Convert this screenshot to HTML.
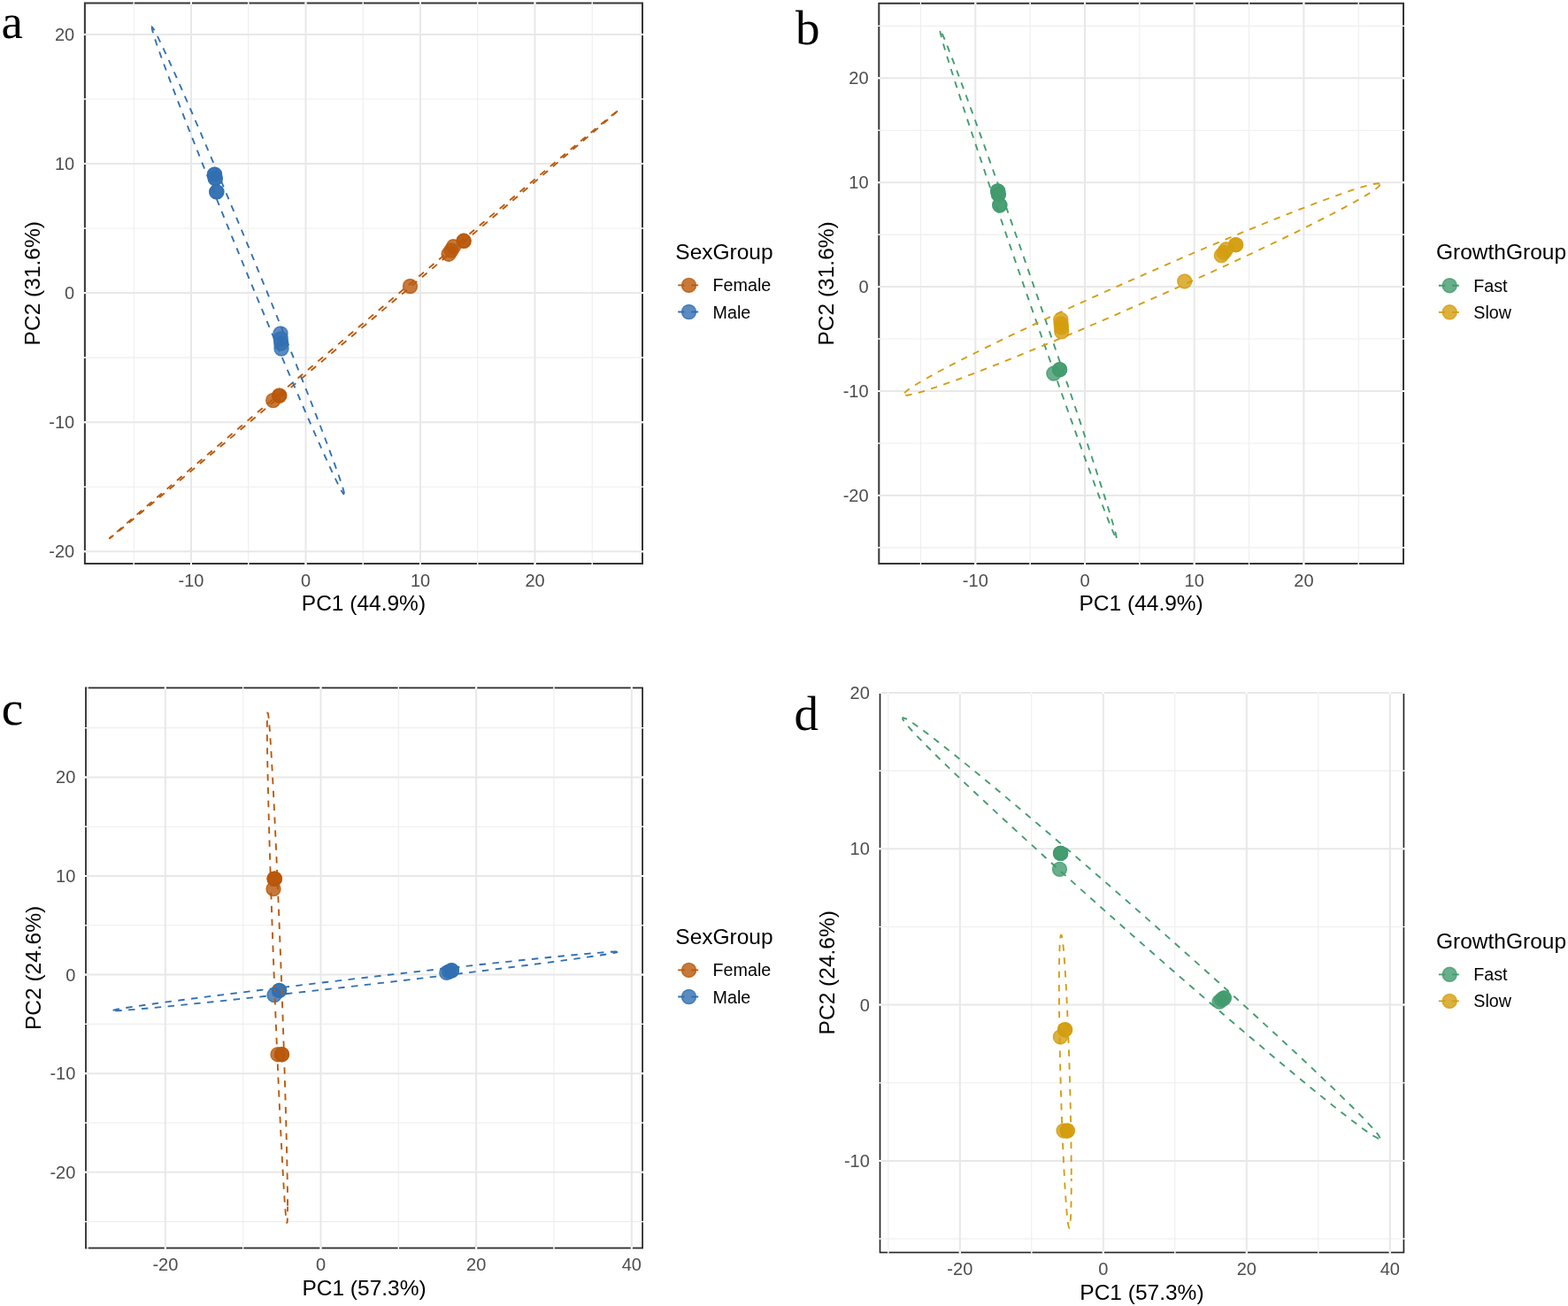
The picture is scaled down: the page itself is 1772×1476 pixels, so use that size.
<!DOCTYPE html>
<html><head><meta charset="utf-8"><title>PCA plots</title>
<style>html,body{margin:0;padding:0;background:#fff;}svg{display:block;}</style>
</head><body>
<svg width="1772" height="1476" viewBox="0 0 1772 1476">
<rect width="1772" height="1476" fill="#fff"/>
<rect x="95.9" y="3.5" width="630.1" height="633.5" fill="none" stroke="#363636" stroke-width="2.0"/>
<line x1="151.25" y1="2.5" x2="151.25" y2="638" stroke="#EEEEEE" stroke-width="1.1"/>
<line x1="280.75" y1="2.5" x2="280.75" y2="638" stroke="#EEEEEE" stroke-width="1.1"/>
<line x1="410.25" y1="2.5" x2="410.25" y2="638" stroke="#EEEEEE" stroke-width="1.1"/>
<line x1="539.75" y1="2.5" x2="539.75" y2="638" stroke="#EEEEEE" stroke-width="1.1"/>
<line x1="669.25" y1="2.5" x2="669.25" y2="638" stroke="#EEEEEE" stroke-width="1.1"/>
<line x1="94.9" y1="550.25" x2="727" y2="550.25" stroke="#EEEEEE" stroke-width="1.1"/>
<line x1="94.9" y1="404.15" x2="727" y2="404.15" stroke="#EEEEEE" stroke-width="1.1"/>
<line x1="94.9" y1="258.05" x2="727" y2="258.05" stroke="#EEEEEE" stroke-width="1.1"/>
<line x1="94.9" y1="111.95" x2="727" y2="111.95" stroke="#EEEEEE" stroke-width="1.1"/>
<line x1="216" y1="2.5" x2="216" y2="638" stroke="#E8E8E8" stroke-width="2.0"/>
<line x1="345.5" y1="2.5" x2="345.5" y2="638" stroke="#E8E8E8" stroke-width="2.0"/>
<line x1="475" y1="2.5" x2="475" y2="638" stroke="#E8E8E8" stroke-width="2.0"/>
<line x1="604.5" y1="2.5" x2="604.5" y2="638" stroke="#E8E8E8" stroke-width="2.0"/>
<line x1="94.9" y1="623.3" x2="727" y2="623.3" stroke="#E8E8E8" stroke-width="2.0"/>
<line x1="94.9" y1="477.2" x2="727" y2="477.2" stroke="#E8E8E8" stroke-width="2.0"/>
<line x1="94.9" y1="331.1" x2="727" y2="331.1" stroke="#E8E8E8" stroke-width="2.0"/>
<line x1="94.9" y1="185" x2="727" y2="185" stroke="#E8E8E8" stroke-width="2.0"/>
<line x1="94.9" y1="38.9" x2="727" y2="38.9" stroke="#E8E8E8" stroke-width="2.0"/>
<line x1="151.25" y1="2.3" x2="151.25" y2="4.7" stroke="#fff" stroke-width="1.1"/>
<line x1="151.25" y1="635.8" x2="151.25" y2="638.2" stroke="#fff" stroke-width="1.1"/>
<line x1="216" y1="2.3" x2="216" y2="4.7" stroke="#fff" stroke-width="2"/>
<line x1="216" y1="635.8" x2="216" y2="638.2" stroke="#fff" stroke-width="2"/>
<line x1="280.75" y1="2.3" x2="280.75" y2="4.7" stroke="#fff" stroke-width="1.1"/>
<line x1="280.75" y1="635.8" x2="280.75" y2="638.2" stroke="#fff" stroke-width="1.1"/>
<line x1="345.5" y1="2.3" x2="345.5" y2="4.7" stroke="#fff" stroke-width="2"/>
<line x1="345.5" y1="635.8" x2="345.5" y2="638.2" stroke="#fff" stroke-width="2"/>
<line x1="410.25" y1="2.3" x2="410.25" y2="4.7" stroke="#fff" stroke-width="1.1"/>
<line x1="410.25" y1="635.8" x2="410.25" y2="638.2" stroke="#fff" stroke-width="1.1"/>
<line x1="475" y1="2.3" x2="475" y2="4.7" stroke="#fff" stroke-width="2"/>
<line x1="475" y1="635.8" x2="475" y2="638.2" stroke="#fff" stroke-width="2"/>
<line x1="539.75" y1="2.3" x2="539.75" y2="4.7" stroke="#fff" stroke-width="1.1"/>
<line x1="539.75" y1="635.8" x2="539.75" y2="638.2" stroke="#fff" stroke-width="1.1"/>
<line x1="604.5" y1="2.3" x2="604.5" y2="4.7" stroke="#fff" stroke-width="2"/>
<line x1="604.5" y1="635.8" x2="604.5" y2="638.2" stroke="#fff" stroke-width="2"/>
<line x1="669.25" y1="2.3" x2="669.25" y2="4.7" stroke="#fff" stroke-width="1.1"/>
<line x1="669.25" y1="635.8" x2="669.25" y2="638.2" stroke="#fff" stroke-width="1.1"/>
<line x1="94.7" y1="623.3" x2="97.1" y2="623.3" stroke="#fff" stroke-width="2"/>
<line x1="724.8" y1="623.3" x2="727.2" y2="623.3" stroke="#fff" stroke-width="2"/>
<line x1="94.7" y1="550.25" x2="97.1" y2="550.25" stroke="#fff" stroke-width="1.1"/>
<line x1="724.8" y1="550.25" x2="727.2" y2="550.25" stroke="#fff" stroke-width="1.1"/>
<line x1="94.7" y1="477.2" x2="97.1" y2="477.2" stroke="#fff" stroke-width="2"/>
<line x1="724.8" y1="477.2" x2="727.2" y2="477.2" stroke="#fff" stroke-width="2"/>
<line x1="94.7" y1="404.15" x2="97.1" y2="404.15" stroke="#fff" stroke-width="1.1"/>
<line x1="724.8" y1="404.15" x2="727.2" y2="404.15" stroke="#fff" stroke-width="1.1"/>
<line x1="94.7" y1="331.1" x2="97.1" y2="331.1" stroke="#fff" stroke-width="2"/>
<line x1="724.8" y1="331.1" x2="727.2" y2="331.1" stroke="#fff" stroke-width="2"/>
<line x1="94.7" y1="258.05" x2="97.1" y2="258.05" stroke="#fff" stroke-width="1.1"/>
<line x1="724.8" y1="258.05" x2="727.2" y2="258.05" stroke="#fff" stroke-width="1.1"/>
<line x1="94.7" y1="185" x2="97.1" y2="185" stroke="#fff" stroke-width="2"/>
<line x1="724.8" y1="185" x2="727.2" y2="185" stroke="#fff" stroke-width="2"/>
<line x1="94.7" y1="111.95" x2="97.1" y2="111.95" stroke="#fff" stroke-width="1.1"/>
<line x1="724.8" y1="111.95" x2="727.2" y2="111.95" stroke="#fff" stroke-width="1.1"/>
<line x1="94.7" y1="38.9" x2="97.1" y2="38.9" stroke="#fff" stroke-width="2"/>
<line x1="724.8" y1="38.9" x2="727.2" y2="38.9" stroke="#fff" stroke-width="2"/>
<circle cx="463.5" cy="323.5" r="8" fill="#B9580A" fill-opacity="0.8" stroke="#B9580A" stroke-opacity="0.8" stroke-width="1.4"/>
<circle cx="524.09" cy="272.29" r="8" fill="#B9580A" fill-opacity="0.8" stroke="#B9580A" stroke-opacity="0.8" stroke-width="1.4"/>
<circle cx="524.09" cy="272.29" r="8" fill="#B9580A" fill-opacity="0.8" stroke="#B9580A" stroke-opacity="0.8" stroke-width="1.4"/>
<circle cx="512.59" cy="278.69" r="8" fill="#B9580A" fill-opacity="0.8" stroke="#B9580A" stroke-opacity="0.8" stroke-width="1.4"/>
<circle cx="510" cy="283" r="8" fill="#B9580A" fill-opacity="0.8" stroke="#B9580A" stroke-opacity="0.8" stroke-width="1.4"/>
<circle cx="507.1" cy="287.2" r="8" fill="#B9580A" fill-opacity="0.8" stroke="#B9580A" stroke-opacity="0.8" stroke-width="1.4"/>
<circle cx="308.7" cy="452.49" r="8" fill="#B9580A" fill-opacity="0.8" stroke="#B9580A" stroke-opacity="0.8" stroke-width="1.4"/>
<circle cx="315.7" cy="447.1" r="8" fill="#B9580A" fill-opacity="0.8" stroke="#B9580A" stroke-opacity="0.8" stroke-width="1.4"/>
<circle cx="315.7" cy="447.1" r="8" fill="#B9580A" fill-opacity="0.8" stroke="#B9580A" stroke-opacity="0.8" stroke-width="1.4"/>
<circle cx="242.5" cy="197.1" r="8" fill="#316FB2" fill-opacity="0.8" stroke="#316FB2" stroke-opacity="0.8" stroke-width="1.4"/>
<circle cx="242.5" cy="197.1" r="8" fill="#316FB2" fill-opacity="0.8" stroke="#316FB2" stroke-opacity="0.8" stroke-width="1.4"/>
<circle cx="243.3" cy="201.7" r="8" fill="#316FB2" fill-opacity="0.8" stroke="#316FB2" stroke-opacity="0.8" stroke-width="1.4"/>
<circle cx="243.3" cy="201.7" r="8" fill="#316FB2" fill-opacity="0.8" stroke="#316FB2" stroke-opacity="0.8" stroke-width="1.4"/>
<circle cx="244.8" cy="216.91" r="8" fill="#316FB2" fill-opacity="0.8" stroke="#316FB2" stroke-opacity="0.8" stroke-width="1.4"/>
<circle cx="244.8" cy="216.91" r="8" fill="#316FB2" fill-opacity="0.8" stroke="#316FB2" stroke-opacity="0.8" stroke-width="1.4"/>
<circle cx="317" cy="377" r="8" fill="#316FB2" fill-opacity="0.8" stroke="#316FB2" stroke-opacity="0.8" stroke-width="1.4"/>
<circle cx="317.29" cy="382.99" r="8" fill="#316FB2" fill-opacity="0.8" stroke="#316FB2" stroke-opacity="0.8" stroke-width="1.4"/>
<circle cx="317.7" cy="388.01" r="8" fill="#316FB2" fill-opacity="0.8" stroke="#316FB2" stroke-opacity="0.8" stroke-width="1.4"/>
<circle cx="317.99" cy="394" r="8" fill="#316FB2" fill-opacity="0.8" stroke="#316FB2" stroke-opacity="0.8" stroke-width="1.4"/>
<path d="M697.9 125.41 L695.72 127 L689.23 132.23 L678.5 141.02 L663.72 153.24 L645.1 168.7 L622.93 187.16 L597.54 208.36 L569.32 231.96 L538.69 257.61 L506.12 284.92 L472.1 313.48 L437.15 342.85 L401.8 372.58 L366.59 402.24 L332.04 431.36 L298.68 459.5 L267.02 486.25 L237.54 511.19 L210.68 533.94 L186.86 554.17 L166.42 571.56 L149.69 585.85 L136.92 596.83 L128.29 604.32 L123.94 608.22 L123.4 608.79" fill="none" stroke="#B9580A" stroke-width="1.85" stroke-dasharray="7.45 7.45" stroke-dashoffset="13.2"/>
<path d="M123.4 608.79 L123.94 608.46 L128.29 605.04 L136.92 598.02 L149.69 587.49 L166.42 573.63 L186.86 556.63 L210.68 536.76 L237.54 514.32 L267.02 489.65 L298.68 463.11 L332.04 435.13 L366.59 406.11 L401.8 376.5 L437.15 346.75 L472.1 317.31 L506.12 288.62 L538.69 261.12 L569.32 235.23 L597.54 211.34 L622.93 189.81 L645.1 170.96 L663.72 155.09 L678.5 142.43 L689.23 133.18 L695.72 127.48 L697.9 125.41" fill="none" stroke="#B9580A" stroke-width="1.85" stroke-dasharray="7.45 7.45" stroke-dashoffset="1.14"/>
<path d="M389.07 558.26 L388.24 554.16 L385.78 546.14 L381.72 534.3 L376.12 518.83 L369.07 499.96 L360.68 477.98 L351.07 453.22 L340.38 426.06 L328.78 396.9 L316.45 366.2 L303.57 334.41 L290.34 302.03 L276.95 269.53 L263.62 237.41 L250.53 206.16 L237.9 176.25 L225.92 148.14 L214.75 122.25 L204.58 98.98 L195.56 78.67 L187.83 61.63 L181.49 48.13 L176.65 38.37 L173.39 32.49 L171.74 30.59 L171.53 31.14" fill="none" stroke="#316FB2" stroke-width="1.85" stroke-dasharray="7.45 7.45" stroke-dashoffset="14.6"/>
<path d="M171.53 31.14 L171.74 32.69 L173.39 38.76 L176.65 48.72 L181.49 62.4 L187.83 79.6 L195.56 100.06 L204.58 123.48 L214.75 149.49 L225.92 177.7 L237.9 207.68 L250.53 238.99 L263.62 271.14 L276.95 303.64 L290.34 336.01 L303.57 367.75 L316.45 398.39 L328.78 427.45 L340.38 454.51 L351.07 479.14 L360.68 500.97 L369.07 519.68 L376.12 534.97 L381.72 546.63 L385.78 554.46 L388.24 558.36 L389.07 558.26" fill="none" stroke="#316FB2" stroke-width="1.85" stroke-dasharray="7.45 7.45" stroke-dashoffset="1.1"/>
<g font-family="'Liberation Sans', Arial, Helvetica, sans-serif" font-size="20.0" fill="#4D4D4D"><text x="216" y="662.7" text-anchor="middle">-10</text><text x="345.5" y="662.7" text-anchor="middle">0</text><text x="475" y="662.7" text-anchor="middle">10</text><text x="604.5" y="662.7" text-anchor="middle">20</text><text x="84.2" y="630.2" text-anchor="end">-20</text><text x="84.2" y="484.1" text-anchor="end">-10</text><text x="84.2" y="338" text-anchor="end">0</text><text x="84.2" y="191.9" text-anchor="end">10</text><text x="84.2" y="45.8" text-anchor="end">20</text></g>
<text x="410.95" y="690.3" text-anchor="middle" font-family="'Liberation Sans', Arial, Helvetica, sans-serif" font-size="24.5" fill="#000">PC1 (44.9%)</text>
<text transform="translate(44.8 320.25) rotate(-90)" text-anchor="middle" font-family="'Liberation Sans', Arial, Helvetica, sans-serif" font-size="24.5" fill="#000">PC2 (31.6%)</text>
<text x="763.3" y="292.6" font-family="'Liberation Sans', Arial, Helvetica, sans-serif" font-size="24.5" fill="#000">SexGroup</text>
<circle cx="778.5" cy="322.4" r="8" fill="#B9580A" fill-opacity="0.8" stroke="#B9580A" stroke-opacity="0.8" stroke-width="1.4"/>
<path d="M766.2 322.4H773.5M781.3 322.4H789.1" stroke="#B9580A" stroke-width="1.85" fill="none"/>
<text x="805.6" y="329.4" font-family="'Liberation Sans', Arial, Helvetica, sans-serif" font-size="19.7" fill="#000">Female</text>
<circle cx="778.5" cy="352.5" r="8" fill="#316FB2" fill-opacity="0.8" stroke="#316FB2" stroke-opacity="0.8" stroke-width="1.4"/>
<path d="M766.2 352.5H773.5M781.3 352.5H789.1" stroke="#316FB2" stroke-width="1.85" fill="none"/>
<text x="805.6" y="359.5" font-family="'Liberation Sans', Arial, Helvetica, sans-serif" font-size="19.7" fill="#000">Male</text>
<text x="1.4" y="43.4" font-family="'Liberation Serif', 'Times New Roman', serif" font-size="55" fill="#000">a</text>
<rect x="993.3" y="3.8" width="592.7" height="633.2" fill="none" stroke="#363636" stroke-width="2.0"/>
<line x1="1040.45" y1="2.8" x2="1040.45" y2="638" stroke="#EEEEEE" stroke-width="1.1"/>
<line x1="1164.15" y1="2.8" x2="1164.15" y2="638" stroke="#EEEEEE" stroke-width="1.1"/>
<line x1="1287.85" y1="2.8" x2="1287.85" y2="638" stroke="#EEEEEE" stroke-width="1.1"/>
<line x1="1411.55" y1="2.8" x2="1411.55" y2="638" stroke="#EEEEEE" stroke-width="1.1"/>
<line x1="1535.25" y1="2.8" x2="1535.25" y2="638" stroke="#EEEEEE" stroke-width="1.1"/>
<line x1="992.3" y1="618.85" x2="1587" y2="618.85" stroke="#EEEEEE" stroke-width="1.1"/>
<line x1="992.3" y1="500.95" x2="1587" y2="500.95" stroke="#EEEEEE" stroke-width="1.1"/>
<line x1="992.3" y1="383.05" x2="1587" y2="383.05" stroke="#EEEEEE" stroke-width="1.1"/>
<line x1="992.3" y1="265.15" x2="1587" y2="265.15" stroke="#EEEEEE" stroke-width="1.1"/>
<line x1="992.3" y1="147.25" x2="1587" y2="147.25" stroke="#EEEEEE" stroke-width="1.1"/>
<line x1="992.3" y1="29.35" x2="1587" y2="29.35" stroke="#EEEEEE" stroke-width="1.1"/>
<line x1="1102.3" y1="2.8" x2="1102.3" y2="638" stroke="#E8E8E8" stroke-width="2.0"/>
<line x1="1226" y1="2.8" x2="1226" y2="638" stroke="#E8E8E8" stroke-width="2.0"/>
<line x1="1349.7" y1="2.8" x2="1349.7" y2="638" stroke="#E8E8E8" stroke-width="2.0"/>
<line x1="1473.4" y1="2.8" x2="1473.4" y2="638" stroke="#E8E8E8" stroke-width="2.0"/>
<line x1="992.3" y1="559.9" x2="1587" y2="559.9" stroke="#E8E8E8" stroke-width="2.0"/>
<line x1="992.3" y1="442" x2="1587" y2="442" stroke="#E8E8E8" stroke-width="2.0"/>
<line x1="992.3" y1="324.1" x2="1587" y2="324.1" stroke="#E8E8E8" stroke-width="2.0"/>
<line x1="992.3" y1="206.2" x2="1587" y2="206.2" stroke="#E8E8E8" stroke-width="2.0"/>
<line x1="992.3" y1="88.3" x2="1587" y2="88.3" stroke="#E8E8E8" stroke-width="2.0"/>
<line x1="1040.45" y1="2.6" x2="1040.45" y2="5" stroke="#fff" stroke-width="1.1"/>
<line x1="1040.45" y1="635.8" x2="1040.45" y2="638.2" stroke="#fff" stroke-width="1.1"/>
<line x1="1102.3" y1="2.6" x2="1102.3" y2="5" stroke="#fff" stroke-width="2"/>
<line x1="1102.3" y1="635.8" x2="1102.3" y2="638.2" stroke="#fff" stroke-width="2"/>
<line x1="1164.15" y1="2.6" x2="1164.15" y2="5" stroke="#fff" stroke-width="1.1"/>
<line x1="1164.15" y1="635.8" x2="1164.15" y2="638.2" stroke="#fff" stroke-width="1.1"/>
<line x1="1226" y1="2.6" x2="1226" y2="5" stroke="#fff" stroke-width="2"/>
<line x1="1226" y1="635.8" x2="1226" y2="638.2" stroke="#fff" stroke-width="2"/>
<line x1="1287.85" y1="2.6" x2="1287.85" y2="5" stroke="#fff" stroke-width="1.1"/>
<line x1="1287.85" y1="635.8" x2="1287.85" y2="638.2" stroke="#fff" stroke-width="1.1"/>
<line x1="1349.7" y1="2.6" x2="1349.7" y2="5" stroke="#fff" stroke-width="2"/>
<line x1="1349.7" y1="635.8" x2="1349.7" y2="638.2" stroke="#fff" stroke-width="2"/>
<line x1="1411.55" y1="2.6" x2="1411.55" y2="5" stroke="#fff" stroke-width="1.1"/>
<line x1="1411.55" y1="635.8" x2="1411.55" y2="638.2" stroke="#fff" stroke-width="1.1"/>
<line x1="1473.4" y1="2.6" x2="1473.4" y2="5" stroke="#fff" stroke-width="2"/>
<line x1="1473.4" y1="635.8" x2="1473.4" y2="638.2" stroke="#fff" stroke-width="2"/>
<line x1="1535.25" y1="2.6" x2="1535.25" y2="5" stroke="#fff" stroke-width="1.1"/>
<line x1="1535.25" y1="635.8" x2="1535.25" y2="638.2" stroke="#fff" stroke-width="1.1"/>
<line x1="992.1" y1="618.85" x2="994.5" y2="618.85" stroke="#fff" stroke-width="1.1"/>
<line x1="1584.8" y1="618.85" x2="1587.2" y2="618.85" stroke="#fff" stroke-width="1.1"/>
<line x1="992.1" y1="559.9" x2="994.5" y2="559.9" stroke="#fff" stroke-width="2"/>
<line x1="1584.8" y1="559.9" x2="1587.2" y2="559.9" stroke="#fff" stroke-width="2"/>
<line x1="992.1" y1="500.95" x2="994.5" y2="500.95" stroke="#fff" stroke-width="1.1"/>
<line x1="1584.8" y1="500.95" x2="1587.2" y2="500.95" stroke="#fff" stroke-width="1.1"/>
<line x1="992.1" y1="442" x2="994.5" y2="442" stroke="#fff" stroke-width="2"/>
<line x1="1584.8" y1="442" x2="1587.2" y2="442" stroke="#fff" stroke-width="2"/>
<line x1="992.1" y1="383.05" x2="994.5" y2="383.05" stroke="#fff" stroke-width="1.1"/>
<line x1="1584.8" y1="383.05" x2="1587.2" y2="383.05" stroke="#fff" stroke-width="1.1"/>
<line x1="992.1" y1="324.1" x2="994.5" y2="324.1" stroke="#fff" stroke-width="2"/>
<line x1="1584.8" y1="324.1" x2="1587.2" y2="324.1" stroke="#fff" stroke-width="2"/>
<line x1="992.1" y1="265.15" x2="994.5" y2="265.15" stroke="#fff" stroke-width="1.1"/>
<line x1="1584.8" y1="265.15" x2="1587.2" y2="265.15" stroke="#fff" stroke-width="1.1"/>
<line x1="992.1" y1="206.2" x2="994.5" y2="206.2" stroke="#fff" stroke-width="2"/>
<line x1="1584.8" y1="206.2" x2="1587.2" y2="206.2" stroke="#fff" stroke-width="2"/>
<line x1="992.1" y1="147.25" x2="994.5" y2="147.25" stroke="#fff" stroke-width="1.1"/>
<line x1="1584.8" y1="147.25" x2="1587.2" y2="147.25" stroke="#fff" stroke-width="1.1"/>
<line x1="992.1" y1="88.3" x2="994.5" y2="88.3" stroke="#fff" stroke-width="2"/>
<line x1="1584.8" y1="88.3" x2="1587.2" y2="88.3" stroke="#fff" stroke-width="2"/>
<line x1="992.1" y1="29.35" x2="994.5" y2="29.35" stroke="#fff" stroke-width="1.1"/>
<line x1="1584.8" y1="29.35" x2="1587.2" y2="29.35" stroke="#fff" stroke-width="1.1"/>
<circle cx="1127.61" cy="215.96" r="8" fill="#429B6E" fill-opacity="0.8" stroke="#429B6E" stroke-opacity="0.8" stroke-width="1.4"/>
<circle cx="1127.61" cy="215.96" r="8" fill="#429B6E" fill-opacity="0.8" stroke="#429B6E" stroke-opacity="0.8" stroke-width="1.4"/>
<circle cx="1128.38" cy="219.68" r="8" fill="#429B6E" fill-opacity="0.8" stroke="#429B6E" stroke-opacity="0.8" stroke-width="1.4"/>
<circle cx="1128.38" cy="219.68" r="8" fill="#429B6E" fill-opacity="0.8" stroke="#429B6E" stroke-opacity="0.8" stroke-width="1.4"/>
<circle cx="1129.81" cy="231.95" r="8" fill="#429B6E" fill-opacity="0.8" stroke="#429B6E" stroke-opacity="0.8" stroke-width="1.4"/>
<circle cx="1129.81" cy="231.95" r="8" fill="#429B6E" fill-opacity="0.8" stroke="#429B6E" stroke-opacity="0.8" stroke-width="1.4"/>
<circle cx="1190.84" cy="422.06" r="8" fill="#429B6E" fill-opacity="0.8" stroke="#429B6E" stroke-opacity="0.8" stroke-width="1.4"/>
<circle cx="1197.54" cy="417.71" r="8" fill="#429B6E" fill-opacity="0.8" stroke="#429B6E" stroke-opacity="0.8" stroke-width="1.4"/>
<circle cx="1197.54" cy="417.71" r="8" fill="#429B6E" fill-opacity="0.8" stroke="#429B6E" stroke-opacity="0.8" stroke-width="1.4"/>
<circle cx="1198.77" cy="361.14" r="8" fill="#D39D0F" fill-opacity="0.8" stroke="#D39D0F" stroke-opacity="0.8" stroke-width="1.4"/>
<circle cx="1199.06" cy="365.98" r="8" fill="#D39D0F" fill-opacity="0.8" stroke="#D39D0F" stroke-opacity="0.8" stroke-width="1.4"/>
<circle cx="1199.44" cy="370.02" r="8" fill="#D39D0F" fill-opacity="0.8" stroke="#D39D0F" stroke-opacity="0.8" stroke-width="1.4"/>
<circle cx="1199.73" cy="374.86" r="8" fill="#D39D0F" fill-opacity="0.8" stroke="#D39D0F" stroke-opacity="0.8" stroke-width="1.4"/>
<circle cx="1338.72" cy="317.97" r="8" fill="#D39D0F" fill-opacity="0.8" stroke="#D39D0F" stroke-opacity="0.8" stroke-width="1.4"/>
<circle cx="1396.59" cy="276.65" r="8" fill="#D39D0F" fill-opacity="0.8" stroke="#D39D0F" stroke-opacity="0.8" stroke-width="1.4"/>
<circle cx="1396.59" cy="276.65" r="8" fill="#D39D0F" fill-opacity="0.8" stroke="#D39D0F" stroke-opacity="0.8" stroke-width="1.4"/>
<circle cx="1385.61" cy="281.81" r="8" fill="#D39D0F" fill-opacity="0.8" stroke="#D39D0F" stroke-opacity="0.8" stroke-width="1.4"/>
<circle cx="1383.14" cy="285.29" r="8" fill="#D39D0F" fill-opacity="0.8" stroke="#D39D0F" stroke-opacity="0.8" stroke-width="1.4"/>
<circle cx="1380.37" cy="288.67" r="8" fill="#D39D0F" fill-opacity="0.8" stroke="#D39D0F" stroke-opacity="0.8" stroke-width="1.4"/>
<path d="M1261.82 608.06 L1261.07 603.92 L1258.81 595.5 L1255.09 582.93 L1249.96 566.39 L1243.49 546.14 L1235.8 522.48 L1226.98 495.78 L1217.18 466.43 L1206.55 434.88 L1195.24 401.62 L1183.43 367.14 L1171.3 331.97 L1159.03 296.64 L1146.8 261.68 L1134.81 227.63 L1123.23 195 L1112.24 164.29 L1102 135.96 L1092.68 110.45 L1084.41 88.13 L1077.31 69.35 L1071.5 54.39 L1067.07 43.48 L1064.07 36.78 L1062.57 34.4 L1062.38 34.84" fill="none" stroke="#429B6E" stroke-width="1.85" stroke-dasharray="7.45 7.45" stroke-dashoffset="0"/>
<path d="M1062.38 34.84 L1062.57 36.37 L1064.07 42.66 L1067.07 53.18 L1071.5 67.76 L1077.31 86.19 L1084.41 108.19 L1092.68 133.42 L1102 161.49 L1112.24 192 L1123.23 224.46 L1134.81 258.4 L1146.8 293.29 L1159.03 328.61 L1171.3 363.82 L1183.43 398.39 L1195.24 431.79 L1206.55 463.52 L1217.18 493.1 L1226.98 520.07 L1235.8 544.03 L1243.49 564.62 L1249.96 581.52 L1255.09 594.48 L1258.81 603.3 L1261.07 607.85 L1261.82 608.06" fill="none" stroke="#429B6E" stroke-width="1.85" stroke-dasharray="7.45 7.45" stroke-dashoffset="14.77"/>
<path d="M1559.91 208.29 L1557.86 207.25 L1551.77 208.03 L1541.71 210.61 L1527.84 214.96 L1510.37 221.01 L1489.57 228.66 L1465.75 237.81 L1439.27 248.31 L1410.53 260 L1379.97 272.72 L1348.06 286.25 L1315.27 300.41 L1282.1 314.97 L1249.06 329.72 L1216.65 344.42 L1185.35 358.86 L1155.65 372.82 L1127.99 386.09 L1102.79 398.46 L1080.43 409.76 L1061.26 419.79 L1045.56 428.43 L1033.58 435.53 L1025.48 440.98 L1021.4 444.71 L1020.89 445.91" fill="none" stroke="#D39D0F" stroke-width="1.85" stroke-dasharray="7.45 7.45" stroke-dashoffset="13.97"/>
<path d="M1020.89 445.91 L1021.4 446.65 L1025.48 446.78 L1033.58 445.1 L1045.56 441.63 L1061.26 436.43 L1080.43 429.56 L1102.79 421.14 L1127.99 411.3 L1155.65 400.18 L1185.35 387.95 L1216.65 374.81 L1249.06 360.93 L1282.1 346.55 L1315.27 331.87 L1348.06 317.11 L1379.97 302.51 L1410.53 288.28 L1439.27 274.64 L1465.75 261.8 L1489.57 249.94 L1510.37 239.26 L1527.84 229.9 L1541.71 222.02 L1551.77 215.74 L1557.86 211.14 L1559.91 208.29" fill="none" stroke="#D39D0F" stroke-width="1.85" stroke-dasharray="7.45 7.45" stroke-dashoffset="12.11"/>
<g font-family="'Liberation Sans', Arial, Helvetica, sans-serif" font-size="20.0" fill="#4D4D4D"><text x="1102.3" y="662.7" text-anchor="middle">-10</text><text x="1226" y="662.7" text-anchor="middle">0</text><text x="1349.7" y="662.7" text-anchor="middle">10</text><text x="1473.4" y="662.7" text-anchor="middle">20</text><text x="981.6" y="566.8" text-anchor="end">-20</text><text x="981.6" y="448.9" text-anchor="end">-10</text><text x="981.6" y="331" text-anchor="end">0</text><text x="981.6" y="213.1" text-anchor="end">10</text><text x="981.6" y="95.2" text-anchor="end">20</text></g>
<text x="1289.65" y="690.3" text-anchor="middle" font-family="'Liberation Sans', Arial, Helvetica, sans-serif" font-size="24.5" fill="#000">PC1 (44.9%)</text>
<text transform="translate(942.2 320.4) rotate(-90)" text-anchor="middle" font-family="'Liberation Sans', Arial, Helvetica, sans-serif" font-size="24.5" fill="#000">PC2 (31.6%)</text>
<text x="1623" y="292.9" font-family="'Liberation Sans', Arial, Helvetica, sans-serif" font-size="24.5" fill="#000">GrowthGroup</text>
<circle cx="1638.2" cy="322.7" r="8" fill="#429B6E" fill-opacity="0.8" stroke="#429B6E" stroke-opacity="0.8" stroke-width="1.4"/>
<path d="M1625.9 322.7H1633.2M1641 322.7H1648.8" stroke="#429B6E" stroke-width="1.85" fill="none"/>
<text x="1665.3" y="329.7" font-family="'Liberation Sans', Arial, Helvetica, sans-serif" font-size="19.7" fill="#000">Fast</text>
<circle cx="1638.2" cy="352.8" r="8" fill="#D39D0F" fill-opacity="0.8" stroke="#D39D0F" stroke-opacity="0.8" stroke-width="1.4"/>
<path d="M1625.9 352.8H1633.2M1641 352.8H1648.8" stroke="#D39D0F" stroke-width="1.85" fill="none"/>
<text x="1665.3" y="359.8" font-family="'Liberation Sans', Arial, Helvetica, sans-serif" font-size="19.7" fill="#000">Slow</text>
<text x="898.9" y="49.5" font-family="'Liberation Serif', 'Times New Roman', serif" font-size="55" fill="#000">b</text>
<rect x="97" y="777.4" width="629.1" height="633.1" fill="none" stroke="#2C2C2C" stroke-width="1.8"/>
<line x1="99.01" y1="776.4" x2="99.01" y2="1411.5" stroke="#EEEEEE" stroke-width="1.1"/>
<line x1="274.67" y1="776.4" x2="274.67" y2="1411.5" stroke="#EEEEEE" stroke-width="1.1"/>
<line x1="450.33" y1="776.4" x2="450.33" y2="1411.5" stroke="#EEEEEE" stroke-width="1.1"/>
<line x1="625.99" y1="776.4" x2="625.99" y2="1411.5" stroke="#EEEEEE" stroke-width="1.1"/>
<line x1="96" y1="1380.6" x2="727.1" y2="1380.6" stroke="#EEEEEE" stroke-width="1.1"/>
<line x1="96" y1="1269" x2="727.1" y2="1269" stroke="#EEEEEE" stroke-width="1.1"/>
<line x1="96" y1="1157.4" x2="727.1" y2="1157.4" stroke="#EEEEEE" stroke-width="1.1"/>
<line x1="96" y1="1045.8" x2="727.1" y2="1045.8" stroke="#EEEEEE" stroke-width="1.1"/>
<line x1="96" y1="934.2" x2="727.1" y2="934.2" stroke="#EEEEEE" stroke-width="1.1"/>
<line x1="96" y1="822.6" x2="727.1" y2="822.6" stroke="#EEEEEE" stroke-width="1.1"/>
<line x1="186.84" y1="776.4" x2="186.84" y2="1411.5" stroke="#E8E8E8" stroke-width="2.0"/>
<line x1="362.5" y1="776.4" x2="362.5" y2="1411.5" stroke="#E8E8E8" stroke-width="2.0"/>
<line x1="538.16" y1="776.4" x2="538.16" y2="1411.5" stroke="#E8E8E8" stroke-width="2.0"/>
<line x1="713.82" y1="776.4" x2="713.82" y2="1411.5" stroke="#E8E8E8" stroke-width="2.0"/>
<line x1="96" y1="1324.8" x2="727.1" y2="1324.8" stroke="#E8E8E8" stroke-width="2.0"/>
<line x1="96" y1="1213.2" x2="727.1" y2="1213.2" stroke="#E8E8E8" stroke-width="2.0"/>
<line x1="96" y1="1101.6" x2="727.1" y2="1101.6" stroke="#E8E8E8" stroke-width="2.0"/>
<line x1="96" y1="990" x2="727.1" y2="990" stroke="#E8E8E8" stroke-width="2.0"/>
<line x1="96" y1="878.4" x2="727.1" y2="878.4" stroke="#E8E8E8" stroke-width="2.0"/>
<line x1="99.01" y1="776.2" x2="99.01" y2="778.6" stroke="#fff" stroke-width="1.1"/>
<line x1="99.01" y1="1409.3" x2="99.01" y2="1411.7" stroke="#fff" stroke-width="1.1"/>
<line x1="186.84" y1="776.2" x2="186.84" y2="778.6" stroke="#fff" stroke-width="2"/>
<line x1="186.84" y1="1409.3" x2="186.84" y2="1411.7" stroke="#fff" stroke-width="2"/>
<line x1="274.67" y1="776.2" x2="274.67" y2="778.6" stroke="#fff" stroke-width="1.1"/>
<line x1="274.67" y1="1409.3" x2="274.67" y2="1411.7" stroke="#fff" stroke-width="1.1"/>
<line x1="362.5" y1="776.2" x2="362.5" y2="778.6" stroke="#fff" stroke-width="2"/>
<line x1="362.5" y1="1409.3" x2="362.5" y2="1411.7" stroke="#fff" stroke-width="2"/>
<line x1="450.33" y1="776.2" x2="450.33" y2="778.6" stroke="#fff" stroke-width="1.1"/>
<line x1="450.33" y1="1409.3" x2="450.33" y2="1411.7" stroke="#fff" stroke-width="1.1"/>
<line x1="538.16" y1="776.2" x2="538.16" y2="778.6" stroke="#fff" stroke-width="2"/>
<line x1="538.16" y1="1409.3" x2="538.16" y2="1411.7" stroke="#fff" stroke-width="2"/>
<line x1="625.99" y1="776.2" x2="625.99" y2="778.6" stroke="#fff" stroke-width="1.1"/>
<line x1="625.99" y1="1409.3" x2="625.99" y2="1411.7" stroke="#fff" stroke-width="1.1"/>
<line x1="713.82" y1="776.2" x2="713.82" y2="778.6" stroke="#fff" stroke-width="2"/>
<line x1="713.82" y1="1409.3" x2="713.82" y2="1411.7" stroke="#fff" stroke-width="2"/>
<line x1="95.8" y1="1380.6" x2="98.2" y2="1380.6" stroke="#fff" stroke-width="1.1"/>
<line x1="724.9" y1="1380.6" x2="727.3" y2="1380.6" stroke="#fff" stroke-width="1.1"/>
<line x1="95.8" y1="1324.8" x2="98.2" y2="1324.8" stroke="#fff" stroke-width="2"/>
<line x1="724.9" y1="1324.8" x2="727.3" y2="1324.8" stroke="#fff" stroke-width="2"/>
<line x1="95.8" y1="1269" x2="98.2" y2="1269" stroke="#fff" stroke-width="1.1"/>
<line x1="724.9" y1="1269" x2="727.3" y2="1269" stroke="#fff" stroke-width="1.1"/>
<line x1="95.8" y1="1213.2" x2="98.2" y2="1213.2" stroke="#fff" stroke-width="2"/>
<line x1="724.9" y1="1213.2" x2="727.3" y2="1213.2" stroke="#fff" stroke-width="2"/>
<line x1="95.8" y1="1157.4" x2="98.2" y2="1157.4" stroke="#fff" stroke-width="1.1"/>
<line x1="724.9" y1="1157.4" x2="727.3" y2="1157.4" stroke="#fff" stroke-width="1.1"/>
<line x1="95.8" y1="1101.6" x2="98.2" y2="1101.6" stroke="#fff" stroke-width="2"/>
<line x1="724.9" y1="1101.6" x2="727.3" y2="1101.6" stroke="#fff" stroke-width="2"/>
<line x1="95.8" y1="1045.8" x2="98.2" y2="1045.8" stroke="#fff" stroke-width="1.1"/>
<line x1="724.9" y1="1045.8" x2="727.3" y2="1045.8" stroke="#fff" stroke-width="1.1"/>
<line x1="95.8" y1="990" x2="98.2" y2="990" stroke="#fff" stroke-width="2"/>
<line x1="724.9" y1="990" x2="727.3" y2="990" stroke="#fff" stroke-width="2"/>
<line x1="95.8" y1="934.2" x2="98.2" y2="934.2" stroke="#fff" stroke-width="1.1"/>
<line x1="724.9" y1="934.2" x2="727.3" y2="934.2" stroke="#fff" stroke-width="1.1"/>
<line x1="95.8" y1="878.4" x2="98.2" y2="878.4" stroke="#fff" stroke-width="2"/>
<line x1="724.9" y1="878.4" x2="727.3" y2="878.4" stroke="#fff" stroke-width="2"/>
<line x1="95.8" y1="822.6" x2="98.2" y2="822.6" stroke="#fff" stroke-width="1.1"/>
<line x1="724.9" y1="822.6" x2="727.3" y2="822.6" stroke="#fff" stroke-width="1.1"/>
<circle cx="310" cy="1124.6" r="8" fill="#316FB2" fill-opacity="0.8" stroke="#316FB2" stroke-opacity="0.8" stroke-width="1.4"/>
<circle cx="315.6" cy="1119.4" r="8" fill="#316FB2" fill-opacity="0.8" stroke="#316FB2" stroke-opacity="0.8" stroke-width="1.4"/>
<circle cx="315.6" cy="1119.4" r="8" fill="#316FB2" fill-opacity="0.8" stroke="#316FB2" stroke-opacity="0.8" stroke-width="1.4"/>
<circle cx="504.78" cy="1099.4" r="8" fill="#316FB2" fill-opacity="0.8" stroke="#316FB2" stroke-opacity="0.8" stroke-width="1.4"/>
<circle cx="507.51" cy="1098" r="8" fill="#316FB2" fill-opacity="0.8" stroke="#316FB2" stroke-opacity="0.8" stroke-width="1.4"/>
<circle cx="510.41" cy="1096.8" r="8" fill="#316FB2" fill-opacity="0.8" stroke="#316FB2" stroke-opacity="0.8" stroke-width="1.4"/>
<circle cx="510.41" cy="1096.8" r="8" fill="#316FB2" fill-opacity="0.8" stroke="#316FB2" stroke-opacity="0.8" stroke-width="1.4"/>
<circle cx="309" cy="1004.6" r="8" fill="#B9580A" fill-opacity="0.8" stroke="#B9580A" stroke-opacity="0.8" stroke-width="1.4"/>
<circle cx="310.2" cy="993.2" r="8" fill="#B9580A" fill-opacity="0.8" stroke="#B9580A" stroke-opacity="0.8" stroke-width="1.4"/>
<circle cx="310.2" cy="993.2" r="8" fill="#B9580A" fill-opacity="0.8" stroke="#B9580A" stroke-opacity="0.8" stroke-width="1.4"/>
<circle cx="310.2" cy="993.2" r="8" fill="#B9580A" fill-opacity="0.8" stroke="#B9580A" stroke-opacity="0.8" stroke-width="1.4"/>
<circle cx="314" cy="1191.71" r="8" fill="#B9580A" fill-opacity="0.8" stroke="#B9580A" stroke-opacity="0.8" stroke-width="1.4"/>
<circle cx="318.5" cy="1191.71" r="8" fill="#B9580A" fill-opacity="0.8" stroke="#B9580A" stroke-opacity="0.8" stroke-width="1.4"/>
<circle cx="318.5" cy="1191.71" r="8" fill="#B9580A" fill-opacity="0.8" stroke="#B9580A" stroke-opacity="0.8" stroke-width="1.4"/>
<path d="M325.05 1363.84 L324.96 1349.25 L324.7 1330.79 L324.26 1308.74 L323.67 1283.43 L322.92 1255.26 L322.02 1224.63 L321 1192.03 L319.86 1157.93 L318.62 1122.87 L317.3 1087.37 L315.93 1051.97 L314.52 1017.21 L313.09 983.61 L311.67 951.68 L310.28 921.91 L308.93 894.75 L307.65 870.6 L306.46 849.84 L305.38 832.79 L304.41 819.69 L303.59 810.75 L302.91 806.1 L302.4 805.81 L302.05 809.9 L301.87 818.29 L301.85 824.06" fill="none" stroke="#B9580A" stroke-width="1.85" stroke-dasharray="7.45 7.45" stroke-dashoffset="13.8"/>
<path d="M301.85 824.06 L301.87 830.86 L302.05 847.41 L302.4 867.71 L302.91 891.43 L303.59 918.22 L304.41 947.68 L305.38 979.35 L306.46 1012.77 L307.65 1047.41 L308.93 1082.76 L310.28 1118.27 L311.67 1153.42 L313.09 1187.67 L314.52 1220.5 L315.93 1251.4 L317.3 1279.93 L318.62 1305.63 L319.86 1328.12 L321 1347.07 L322.02 1362.17 L322.92 1373.21 L323.67 1380.02 L324.26 1382.49 L324.7 1380.59 L324.96 1374.34 L325.05 1363.84" fill="none" stroke="#B9580A" stroke-width="1.85" stroke-dasharray="7.45 7.45" stroke-dashoffset="8.72"/>
<path d="M698 1075.81 L695.84 1075.55 L689.38 1075.8 L678.73 1076.55 L664.04 1077.8 L645.54 1079.51 L623.51 1081.68 L598.29 1084.25 L570.25 1087.2 L539.81 1090.48 L507.45 1094.04 L473.66 1097.83 L438.93 1101.78 L403.81 1105.85 L368.82 1109.96 L334.5 1114.05 L301.35 1118.07 L269.9 1121.95 L240.61 1125.63 L213.92 1129.06 L190.25 1132.18 L169.95 1134.96 L153.32 1137.33 L140.63 1139.28 L132.06 1140.77 L127.74 1141.78 L127.2 1142.09" fill="none" stroke="#316FB2" stroke-width="1.85" stroke-dasharray="7.45 7.45" stroke-dashoffset="14.2"/>
<path d="M127.2 1142.09 L127.74 1142.28 L132.06 1142.29 L140.63 1141.78 L153.32 1140.78 L169.95 1139.3 L190.25 1137.36 L213.92 1134.99 L240.61 1132.22 L269.9 1129.1 L301.35 1125.67 L334.5 1121.99 L368.82 1118.11 L403.81 1114.1 L438.93 1110 L473.66 1105.89 L507.45 1101.83 L539.81 1097.87 L570.25 1094.08 L598.29 1090.52 L623.51 1087.24 L645.54 1084.28 L664.04 1081.7 L678.73 1079.54 L689.38 1077.81 L695.84 1076.57 L698 1075.81" fill="none" stroke="#316FB2" stroke-width="1.85" stroke-dasharray="7.45 7.45" stroke-dashoffset="11.87"/>
<g font-family="'Liberation Sans', Arial, Helvetica, sans-serif" font-size="20.0" fill="#4D4D4D"><text x="186.84" y="1436.2" text-anchor="middle">-20</text><text x="362.5" y="1436.2" text-anchor="middle">0</text><text x="538.16" y="1436.2" text-anchor="middle">20</text><text x="713.82" y="1436.2" text-anchor="middle">40</text><text x="85.3" y="1331.7" text-anchor="end">-20</text><text x="85.3" y="1220.1" text-anchor="end">-10</text><text x="85.3" y="1108.5" text-anchor="end">0</text><text x="85.3" y="996.9" text-anchor="end">10</text><text x="85.3" y="885.3" text-anchor="end">20</text></g>
<text x="411.55" y="1463.8" text-anchor="middle" font-family="'Liberation Sans', Arial, Helvetica, sans-serif" font-size="24.5" fill="#000">PC1 (57.3%)</text>
<text transform="translate(45.9 1093.95) rotate(-90)" text-anchor="middle" font-family="'Liberation Sans', Arial, Helvetica, sans-serif" font-size="24.5" fill="#000">PC2 (24.6%)</text>
<text x="763.3" y="1066.6" font-family="'Liberation Sans', Arial, Helvetica, sans-serif" font-size="24.5" fill="#000">SexGroup</text>
<circle cx="778.5" cy="1096.4" r="8" fill="#B9580A" fill-opacity="0.8" stroke="#B9580A" stroke-opacity="0.8" stroke-width="1.4"/>
<path d="M766.2 1096.4H773.5M781.3 1096.4H789.1" stroke="#B9580A" stroke-width="1.85" fill="none"/>
<text x="805.6" y="1103.4" font-family="'Liberation Sans', Arial, Helvetica, sans-serif" font-size="19.7" fill="#000">Female</text>
<circle cx="778.5" cy="1126.5" r="8" fill="#316FB2" fill-opacity="0.8" stroke="#316FB2" stroke-opacity="0.8" stroke-width="1.4"/>
<path d="M766.2 1126.5H773.5M781.3 1126.5H789.1" stroke="#316FB2" stroke-width="1.85" fill="none"/>
<text x="805.6" y="1133.5" font-family="'Liberation Sans', Arial, Helvetica, sans-serif" font-size="19.7" fill="#000">Male</text>
<text x="1.7" y="818.8" font-family="'Liberation Serif', 'Times New Roman', serif" font-size="55" fill="#000">c</text>
<rect x="994.5" y="783" width="591.9" height="632.5" fill="none" stroke="#262626" stroke-width="1.65"/>
<line x1="1003.8" y1="782" x2="1003.8" y2="1416.5" stroke="#EEEEEE" stroke-width="1.1"/>
<line x1="1165.8" y1="782" x2="1165.8" y2="1416.5" stroke="#EEEEEE" stroke-width="1.1"/>
<line x1="1327.8" y1="782" x2="1327.8" y2="1416.5" stroke="#EEEEEE" stroke-width="1.1"/>
<line x1="1489.8" y1="782" x2="1489.8" y2="1416.5" stroke="#EEEEEE" stroke-width="1.1"/>
<line x1="993.5" y1="1400.05" x2="1587.4" y2="1400.05" stroke="#EEEEEE" stroke-width="1.1"/>
<line x1="993.5" y1="1223.75" x2="1587.4" y2="1223.75" stroke="#EEEEEE" stroke-width="1.1"/>
<line x1="993.5" y1="1047.45" x2="1587.4" y2="1047.45" stroke="#EEEEEE" stroke-width="1.1"/>
<line x1="993.5" y1="871.15" x2="1587.4" y2="871.15" stroke="#EEEEEE" stroke-width="1.1"/>
<line x1="1084.8" y1="782" x2="1084.8" y2="1416.5" stroke="#E8E8E8" stroke-width="2.0"/>
<line x1="1246.8" y1="782" x2="1246.8" y2="1416.5" stroke="#E8E8E8" stroke-width="2.0"/>
<line x1="1408.8" y1="782" x2="1408.8" y2="1416.5" stroke="#E8E8E8" stroke-width="2.0"/>
<line x1="1570.8" y1="782" x2="1570.8" y2="1416.5" stroke="#E8E8E8" stroke-width="2.0"/>
<line x1="993.5" y1="1311.9" x2="1587.4" y2="1311.9" stroke="#E8E8E8" stroke-width="2.0"/>
<line x1="993.5" y1="1135.6" x2="1587.4" y2="1135.6" stroke="#E8E8E8" stroke-width="2.0"/>
<line x1="993.5" y1="959.3" x2="1587.4" y2="959.3" stroke="#E8E8E8" stroke-width="2.0"/>
<line x1="993.5" y1="783" x2="1587.4" y2="783" stroke="#E8E8E8" stroke-width="2.0"/>
<line x1="1003.8" y1="781.8" x2="1003.8" y2="784.2" stroke="#fff" stroke-width="1.1"/>
<line x1="1003.8" y1="1414.3" x2="1003.8" y2="1416.7" stroke="#fff" stroke-width="1.1"/>
<line x1="1084.8" y1="781.8" x2="1084.8" y2="784.2" stroke="#fff" stroke-width="2"/>
<line x1="1084.8" y1="1414.3" x2="1084.8" y2="1416.7" stroke="#fff" stroke-width="2"/>
<line x1="1165.8" y1="781.8" x2="1165.8" y2="784.2" stroke="#fff" stroke-width="1.1"/>
<line x1="1165.8" y1="1414.3" x2="1165.8" y2="1416.7" stroke="#fff" stroke-width="1.1"/>
<line x1="1246.8" y1="781.8" x2="1246.8" y2="784.2" stroke="#fff" stroke-width="2"/>
<line x1="1246.8" y1="1414.3" x2="1246.8" y2="1416.7" stroke="#fff" stroke-width="2"/>
<line x1="1327.8" y1="781.8" x2="1327.8" y2="784.2" stroke="#fff" stroke-width="1.1"/>
<line x1="1327.8" y1="1414.3" x2="1327.8" y2="1416.7" stroke="#fff" stroke-width="1.1"/>
<line x1="1408.8" y1="781.8" x2="1408.8" y2="784.2" stroke="#fff" stroke-width="2"/>
<line x1="1408.8" y1="1414.3" x2="1408.8" y2="1416.7" stroke="#fff" stroke-width="2"/>
<line x1="1489.8" y1="781.8" x2="1489.8" y2="784.2" stroke="#fff" stroke-width="1.1"/>
<line x1="1489.8" y1="1414.3" x2="1489.8" y2="1416.7" stroke="#fff" stroke-width="1.1"/>
<line x1="1570.8" y1="781.8" x2="1570.8" y2="784.2" stroke="#fff" stroke-width="2"/>
<line x1="1570.8" y1="1414.3" x2="1570.8" y2="1416.7" stroke="#fff" stroke-width="2"/>
<line x1="993.3" y1="1400.05" x2="995.7" y2="1400.05" stroke="#fff" stroke-width="1.1"/>
<line x1="1585.2" y1="1400.05" x2="1587.6" y2="1400.05" stroke="#fff" stroke-width="1.1"/>
<line x1="993.3" y1="1311.9" x2="995.7" y2="1311.9" stroke="#fff" stroke-width="2"/>
<line x1="1585.2" y1="1311.9" x2="1587.6" y2="1311.9" stroke="#fff" stroke-width="2"/>
<line x1="993.3" y1="1223.75" x2="995.7" y2="1223.75" stroke="#fff" stroke-width="1.1"/>
<line x1="1585.2" y1="1223.75" x2="1587.6" y2="1223.75" stroke="#fff" stroke-width="1.1"/>
<line x1="993.3" y1="1135.6" x2="995.7" y2="1135.6" stroke="#fff" stroke-width="2"/>
<line x1="1585.2" y1="1135.6" x2="1587.6" y2="1135.6" stroke="#fff" stroke-width="2"/>
<line x1="993.3" y1="1047.45" x2="995.7" y2="1047.45" stroke="#fff" stroke-width="1.1"/>
<line x1="1585.2" y1="1047.45" x2="1587.6" y2="1047.45" stroke="#fff" stroke-width="1.1"/>
<line x1="993.3" y1="959.3" x2="995.7" y2="959.3" stroke="#fff" stroke-width="2"/>
<line x1="1585.2" y1="959.3" x2="1587.6" y2="959.3" stroke="#fff" stroke-width="2"/>
<line x1="993.3" y1="871.15" x2="995.7" y2="871.15" stroke="#fff" stroke-width="1.1"/>
<line x1="1585.2" y1="871.15" x2="1587.6" y2="871.15" stroke="#fff" stroke-width="1.1"/>
<line x1="993.3" y1="783" x2="995.7" y2="783" stroke="#fff" stroke-width="2"/>
<line x1="1585.2" y1="783" x2="1587.6" y2="783" stroke="#fff" stroke-width="2"/>
<circle cx="1197.46" cy="982.36" r="8" fill="#429B6E" fill-opacity="0.8" stroke="#429B6E" stroke-opacity="0.8" stroke-width="1.4"/>
<circle cx="1198.56" cy="964.36" r="8" fill="#429B6E" fill-opacity="0.8" stroke="#429B6E" stroke-opacity="0.8" stroke-width="1.4"/>
<circle cx="1198.56" cy="964.36" r="8" fill="#429B6E" fill-opacity="0.8" stroke="#429B6E" stroke-opacity="0.8" stroke-width="1.4"/>
<circle cx="1198.56" cy="964.36" r="8" fill="#429B6E" fill-opacity="0.8" stroke="#429B6E" stroke-opacity="0.8" stroke-width="1.4"/>
<circle cx="1378.02" cy="1132.13" r="8" fill="#429B6E" fill-opacity="0.8" stroke="#429B6E" stroke-opacity="0.8" stroke-width="1.4"/>
<circle cx="1380.53" cy="1129.91" r="8" fill="#429B6E" fill-opacity="0.8" stroke="#429B6E" stroke-opacity="0.8" stroke-width="1.4"/>
<circle cx="1383.2" cy="1128.02" r="8" fill="#429B6E" fill-opacity="0.8" stroke="#429B6E" stroke-opacity="0.8" stroke-width="1.4"/>
<circle cx="1383.2" cy="1128.02" r="8" fill="#429B6E" fill-opacity="0.8" stroke="#429B6E" stroke-opacity="0.8" stroke-width="1.4"/>
<circle cx="1198.39" cy="1171.94" r="8" fill="#D39D0F" fill-opacity="0.8" stroke="#D39D0F" stroke-opacity="0.8" stroke-width="1.4"/>
<circle cx="1203.55" cy="1163.72" r="8" fill="#D39D0F" fill-opacity="0.8" stroke="#D39D0F" stroke-opacity="0.8" stroke-width="1.4"/>
<circle cx="1203.55" cy="1163.72" r="8" fill="#D39D0F" fill-opacity="0.8" stroke="#D39D0F" stroke-opacity="0.8" stroke-width="1.4"/>
<circle cx="1202.07" cy="1277.94" r="8" fill="#D39D0F" fill-opacity="0.8" stroke="#D39D0F" stroke-opacity="0.8" stroke-width="1.4"/>
<circle cx="1206.22" cy="1277.94" r="8" fill="#D39D0F" fill-opacity="0.8" stroke="#D39D0F" stroke-opacity="0.8" stroke-width="1.4"/>
<circle cx="1206.22" cy="1277.94" r="8" fill="#D39D0F" fill-opacity="0.8" stroke="#D39D0F" stroke-opacity="0.8" stroke-width="1.4"/>
<path d="M1559.83 1286.65 L1557.78 1282.8 L1551.67 1275.42 L1541.59 1264.6 L1527.7 1250.51 L1510.19 1233.38 L1489.35 1213.45 L1465.48 1191.03 L1438.95 1166.45 L1410.16 1140.1 L1379.54 1112.38 L1347.57 1083.69 L1314.71 1054.48 L1281.48 1025.19 L1248.38 996.26 L1215.9 968.14 L1184.55 941.24 L1154.79 915.98 L1127.07 892.73 L1101.83 871.86 L1079.43 853.68 L1060.22 838.45 L1044.49 826.43 L1032.48 817.78 L1024.37 812.63 L1020.29 811.07 L1019.77 811.65" fill="none" stroke="#429B6E" stroke-width="1.85" stroke-dasharray="7.45 7.45" stroke-dashoffset="14.63"/>
<path d="M1019.77 811.65 L1020.29 813.12 L1024.37 818.75 L1032.48 827.87 L1044.49 840.35 L1060.22 855.99 L1079.43 874.56 L1101.83 895.77 L1127.07 919.31 L1154.79 944.82 L1184.55 971.91 L1215.9 1000.17 L1248.38 1029.18 L1281.48 1058.48 L1314.71 1087.65 L1347.57 1116.23 L1379.54 1143.79 L1410.16 1169.92 L1438.95 1194.22 L1465.48 1216.32 L1489.35 1235.89 L1510.19 1252.62 L1527.7 1266.27 L1541.59 1276.63 L1551.67 1283.54 L1557.78 1286.9 L1559.83 1286.65" fill="none" stroke="#429B6E" stroke-width="1.85" stroke-dasharray="7.45 7.45" stroke-dashoffset="3.62"/>
<path d="M1210.74 1331.67 L1210.69 1315.6 L1210.53 1298.11 L1210.27 1279.47 L1209.92 1259.95 L1209.47 1239.87 L1208.93 1219.51 L1208.32 1199.2 L1207.63 1179.23 L1206.89 1159.91 L1206.11 1141.53 L1205.28 1124.38 L1204.44 1108.71 L1203.59 1094.75 L1202.74 1082.73 L1201.9 1072.82 L1201.09 1065.17 L1200.33 1059.9 L1199.62 1057.09 L1198.97 1056.78 L1198.39 1058.98 L1197.9 1063.65 L1197.49 1070.72 L1197.19 1080.08 L1196.98 1091.6 L1196.87 1105.1 L1196.86 1112.53" fill="none" stroke="#D39D0F" stroke-width="1.85" stroke-dasharray="7.45 7.45" stroke-dashoffset="11.1"/>
<path d="M1196.86 1112.53 L1196.87 1120.37 L1196.98 1137.19 L1197.19 1155.29 L1197.49 1174.4 L1197.9 1194.24 L1198.39 1214.49 L1198.97 1234.87 L1199.62 1255.05 L1200.33 1274.73 L1201.09 1293.61 L1201.9 1311.41 L1202.74 1327.86 L1203.59 1342.7 L1204.44 1355.71 L1205.28 1366.7 L1206.11 1375.5 L1206.89 1381.97 L1207.63 1386.02 L1208.32 1387.58 L1208.93 1386.64 L1209.47 1383.2 L1209.92 1377.31 L1210.27 1369.08 L1210.53 1358.62 L1210.69 1346.08 L1210.74 1331.67" fill="none" stroke="#D39D0F" stroke-width="1.85" stroke-dasharray="7.45 7.45" stroke-dashoffset="14.36"/>
<g font-family="'Liberation Sans', Arial, Helvetica, sans-serif" font-size="20.0" fill="#4D4D4D"><text x="1084.8" y="1441.2" text-anchor="middle">-20</text><text x="1246.8" y="1441.2" text-anchor="middle">0</text><text x="1408.8" y="1441.2" text-anchor="middle">20</text><text x="1570.8" y="1441.2" text-anchor="middle">40</text><text x="982.8" y="1318.8" text-anchor="end">-10</text><text x="982.8" y="1142.5" text-anchor="end">0</text><text x="982.8" y="966.2" text-anchor="end">10</text><text x="982.8" y="789.9" text-anchor="end">20</text></g>
<text x="1290.45" y="1468.8" text-anchor="middle" font-family="'Liberation Sans', Arial, Helvetica, sans-serif" font-size="24.5" fill="#000">PC1 (57.3%)</text>
<text transform="translate(943.4 1099.25) rotate(-90)" text-anchor="middle" font-family="'Liberation Sans', Arial, Helvetica, sans-serif" font-size="24.5" fill="#000">PC2 (24.6%)</text>
<text x="1623" y="1071.5" font-family="'Liberation Sans', Arial, Helvetica, sans-serif" font-size="24.5" fill="#000">GrowthGroup</text>
<circle cx="1638.2" cy="1101.3" r="8" fill="#429B6E" fill-opacity="0.8" stroke="#429B6E" stroke-opacity="0.8" stroke-width="1.4"/>
<path d="M1625.9 1101.3H1633.2M1641 1101.3H1648.8" stroke="#429B6E" stroke-width="1.85" fill="none"/>
<text x="1665.3" y="1108.3" font-family="'Liberation Sans', Arial, Helvetica, sans-serif" font-size="19.7" fill="#000">Fast</text>
<circle cx="1638.2" cy="1131.4" r="8" fill="#D39D0F" fill-opacity="0.8" stroke="#D39D0F" stroke-opacity="0.8" stroke-width="1.4"/>
<path d="M1625.9 1131.4H1633.2M1641 1131.4H1648.8" stroke="#D39D0F" stroke-width="1.85" fill="none"/>
<text x="1665.3" y="1138.4" font-family="'Liberation Sans', Arial, Helvetica, sans-serif" font-size="19.7" fill="#000">Slow</text>
<text x="897.5" y="825.4" font-family="'Liberation Serif', 'Times New Roman', serif" font-size="55" fill="#000">d</text>
</svg>
</body></html>
